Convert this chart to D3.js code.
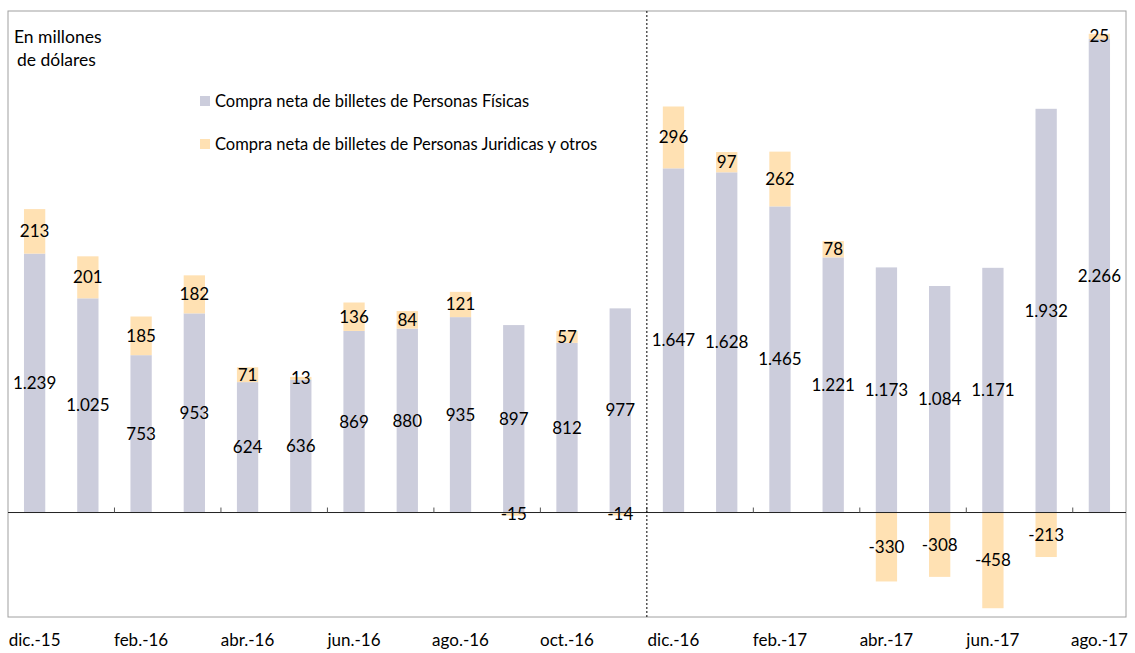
<html>
  <head>
    <script src="https://cdn.jsdelivr.net/npm/d3@7"></script>
    <style>
      body { margin: 0; background: #ffffff; }
      text { font-family: Lato, "Open Sans", sans-serif; }
    </style>
  </head>
  <body>
    <svg width="1135" height="653" id="mainsvg"></svg>
    <script>
        // data
        const months = ['dic.-15','ene.-16','feb.-16','mar.-16','abr.-16','may.-16','jun.-16','jul.-16','ago.-16','sep.-16','oct.-16','nov.-16',
                        'dic.-16','ene.-17','feb.-17','mar.-17','abr.-17','may.-17','jun.-17','jul.-17','ago.-17'];
        const fisicas = [1239, 1025, 753, 953, 624, 636, 869, 880, 935, 897, 812, 977, 1647, 1628, 1465, 1221, 1173, 1084, 1171, 1932, 2266];
        const juridicas = [213, 201, 185, 182, 71, 13, 136, 84, 121, -15, 57, -14, 296, 97, 262, 78, -330, -308, -458, -213, 25];
        const tickLabels = ['dic.-15','feb.-16','abr.-16','jun.-16','ago.-16','oct.-16','dic.-16','feb.-17','abr.-17','jun.-17','ago.-17'];
        const seriesNames = ['Compra neta de billetes de Personas Físicas', 'Compra neta de billetes de Personas Juridicas y otros'];
        const colors = ['#cccddc', '#ffe1b3'];

        const svg = d3.select('#mainsvg');
        const plot = {left: 8, right: 1126, top: 11, bottom: 617};

        const x = d3.scaleBand()
          .domain(months)
          .range([plot.left, plot.right])
          .paddingInner(0.6)
          .paddingOuter(0.3);
        const y = d3.scaleLinear()
          .domain([-500, 2400])
          .range([plot.bottom, plot.top]);
        const boundary = d => x(d) - x.step() * 0.3;
        // spanish style: dot for thousands, plain hyphen for minus
        const fmt = v => d3.format(',')(v).replace(/,/g, '.').replace('\u2212', '-');

        const data = months.map((m, i) => ({m: m, f: fisicas[i], j: juridicas[i]}));

        // frame
        svg.append('rect')
          .attr('x', plot.left).attr('y', plot.top)
          .attr('width', plot.right - plot.left).attr('height', plot.bottom - plot.top)
          .attr('fill', 'none').attr('stroke', '#a0a0a0').attr('stroke-width', 1);

        const g = svg.append('g');

        // Personas Físicas
        g.selectAll('.bf').data(data).enter().append('rect')
          .attr('class', 'bf')
          .attr('x', d => x(d.m))
          .attr('width', x.bandwidth())
          .attr('y', d => y(d.f))
          .attr('height', d => y(0) - y(d.f))
          .attr('fill', colors[0]);

        // Personas Juridicas: stacked on top when positive, below zero when negative
        g.selectAll('.bj').data(data).enter().append('rect')
          .attr('class', 'bj')
          .attr('x', d => x(d.m))
          .attr('width', x.bandwidth())
          .attr('y', d => d.j >= 0 ? y(d.f + d.j) : y(0))
          .attr('height', d => Math.abs(y(0) - y(d.j)))
          .attr('fill', colors[1]);

        // zero line
        svg.append('line')
          .attr('x1', plot.left).attr('x2', plot.right)
          .attr('y1', y(0)).attr('y2', y(0))
          .attr('stroke', '#222').attr('stroke-width', 1);

        // tick marks every 2 months
        svg.selectAll('.tk').data(months.filter((d, i) => i % 2 === 0 && i > 0)).enter().append('line')
          .attr('x1', d => boundary(d)).attr('x2', d => boundary(d))
          .attr('y1', y(0)).attr('y2', y(0) - 5)
          .attr('stroke', '#555').attr('stroke-width', 1);

        // dashed separator
        svg.append('line')
          .attr('x1', boundary('dic.-16')).attr('x2', boundary('dic.-16'))
          .attr('y1', plot.top).attr('y2', plot.bottom)
          .attr('stroke', '#000').attr('stroke-width', 1).attr('stroke-dasharray', '2,2');

        // data labels
        g.selectAll('.lf').data(data).enter().append('text')
          .attr('x', d => x(d.m) + x.bandwidth() / 2)
          .attr('y', d => (y(0) + y(d.f)) / 2)
          .attr('dy', '0.35em')
          .attr('text-anchor', 'middle')
          .attr('font-size', 17).attr('fill', '#000')
          .text(d => fmt(d.f));
        g.selectAll('.lj').data(data).enter().append('text')
          .attr('x', d => x(d.m) + x.bandwidth() / 2)
          .attr('y', d => d.j >= 0 ? (y(d.f) + y(d.f + d.j)) / 2 : (y(0) + y(d.j)) / 2)
          .attr('dy', '0.35em')
          .attr('text-anchor', 'middle')
          .attr('font-size', 17).attr('fill', '#000')
          .text(d => fmt(d.j));

        // x axis labels
        svg.selectAll('.xl').data(tickLabels).enter().append('text')
          .attr('x', d => x(d) + x.bandwidth() / 2)
          .attr('y', 646)
          .attr('text-anchor', 'middle')
          .attr('font-size', 17).attr('fill', '#000')
          .text(d => d);

        // unit note
        svg.append('text').attr('x', 14).attr('y', 43).attr('font-size', 17.5).text('En millones');
        svg.append('text').attr('x', 17).attr('y', 66).attr('font-size', 17.5).text('de dólares');

        // legend
        const legend = svg.selectAll('.legend').data(seriesNames).enter().append('g')
          .attr('transform', (d, i) => `translate(200, ${96 + i * 43})`);
        legend.append('rect')
          .attr('width', 10).attr('height', 10)
          .attr('fill', (d, i) => colors[i]);
        legend.append('text')
          .attr('x', 15).attr('y', 10.5)
          .attr('font-size', 16.5).attr('fill', '#000')
          .text(d => d);
    </script>
  </body>
</html>
